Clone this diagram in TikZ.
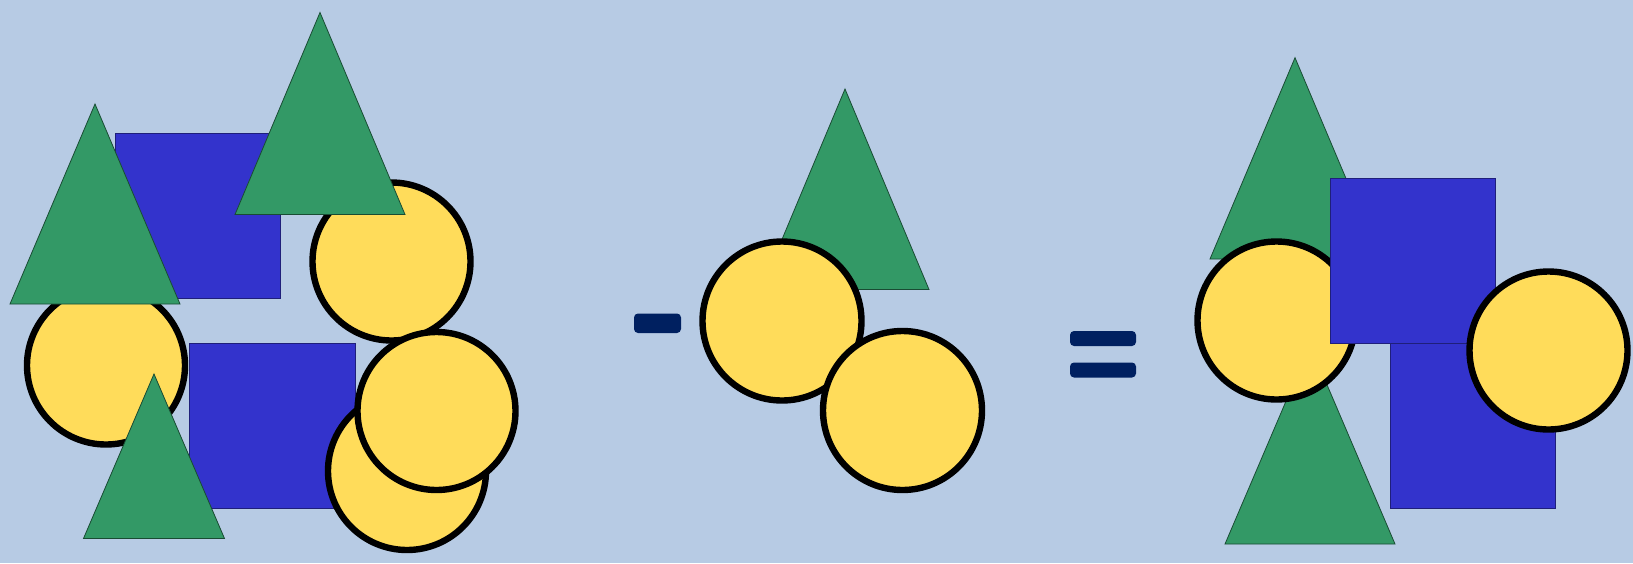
\documentclass[tikz,border=0pt]{standalone}
\usepackage{tikz}
\definecolor{bg}{HTML}{B7CBE4}
\definecolor{sqblue}{HTML}{3333CC}
\definecolor{trigreen}{HTML}{339966}
\definecolor{cyellow}{HTML}{FFDC5A}
\definecolor{navy}{HTML}{002060}
\tikzset{
  sqbox/.style={fill=sqblue, draw=sqblue!60!black, line width=0.4pt},
  trishape/.style={fill=trigreen, draw=trigreen!50!black, line width=0.4pt},
  ball/.style={fill=cyellow, draw=black, line width=3.2pt},
  opbar/.style={fill=navy, rounded corners=2pt}
}
\newcommand{\tri}[4]{% apex x, apex y, half width, base y
  \path[trishape] (#1,#2) -- (#1+#3,#4) -- (#1-#3,#4) -- cycle;}
\begin{document}
\begin{tikzpicture}[x=0.5pt,y=-0.5pt]
\path[fill=bg] (0,0) rectangle (1633,563);
\useasboundingbox (0,0) rectangle (1633,563);
% ---- left group ----
\path[sqbox] (115,133) rectangle (280,298);
\path[sqbox] (189.5,343.5) rectangle (355,508);
\path[ball] (106,365.5) circle (79);
\path[ball] (391.5,261.5) circle (79);
\path[ball] (407,471) circle (79);
\path[ball] (436.5,411) circle (79);
\tri{95}{104}{85}{304}
\tri{320}{12.5}{85}{214.5}
\tri{154}{374}{70.5}{538.5}
% ---- minus ----
\path[opbar] (634,313.5) rectangle (681,333);
% ---- middle group ----
\tri{845}{89}{84}{289.5}
\path[ball] (782,321) circle (79.5);
\path[ball] (902.5,410.5) circle (79.5);
% ---- equals ----
\path[opbar] (1070,331) rectangle (1136,346);
\path[opbar] (1070,362.5) rectangle (1136,377.5);
% ---- right group ----
\tri{1295}{57.7}{85}{259}
\tri{1310}{345}{85}{544}
\path[ball] (1276.5,320.5) circle (79);
\path[sqbox] (1390,343) rectangle (1555,508);
\path[sqbox] (1330,178) rectangle (1495,343);
\path[ball] (1548.5,350.5) circle (79);
\end{tikzpicture}
\end{document}
